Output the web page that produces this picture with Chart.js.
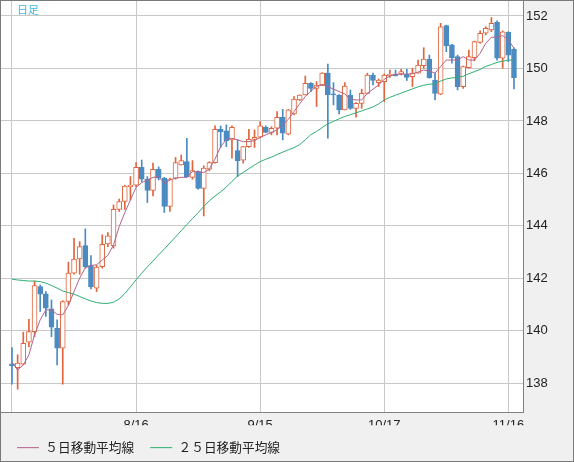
<!DOCTYPE html>
<html lang="ja">
<head>
<meta charset="utf-8">
<title>日足</title>
<script src="https://cdn.jsdelivr.net/npm/chart.js@4.4.1/dist/chart.umd.min.js"></script>
<style>
  html, body { margin: 0; padding: 0; background: #f0f0f0; }
</style>
</head>
<body>
<canvas id="myChart" width="574" height="462"></canvas>
<script>
// USD/JPY daily, 7/17 - 11/17 (index 0 = 7/17)
const opens = [
  138.75, 138.60, 138.73, 139.57, 139.97, 141.69, 141.41, 140.84, 140.10, 139.34,
  141.12, 142.20, 142.74, 143.25, 142.49, 141.63, 142.45, 143.31, 143.24, 144.63,
  144.93, 145.50, 145.55, 146.23, 145.78, 145.35, 146.16, 145.82, 144.74, 145.82,
  146.32, 146.45, 145.85, 146.07, 145.43, 146.16, 146.41, 147.68, 147.62, 147.28,
  146.87, 146.51, 147.02, 147.30, 147.38, 147.76, 147.56, 147.72, 148.14, 147.50,
  148.27, 148.80, 148.99, 149.43, 149.24, 149.37, 149.82, 149.03, 148.99, 148.42,
  148.99, 148.48, 148.67, 149.05, 149.75, 149.46, 149.50, 149.72, 149.79, 149.79,
  149.79, 149.69, 149.82, 150.11, 150.36, 149.56, 149.02, 151.63, 150.90, 150.45,
  149.31, 150.03, 150.41, 150.99, 151.34, 151.47, 151.76, 150.39, 151.38, 150.74
];
const highs = [
  139.36, 139.09, 139.95, 140.44, 141.90, 141.75, 141.50, 141.18, 140.42, 141.15,
  142.62, 143.53, 143.40, 143.89, 142.87, 142.50, 143.66, 143.75, 144.80, 145.02,
  145.55, 145.88, 146.41, 146.51, 145.88, 146.39, 146.25, 145.85, 145.82, 146.61,
  146.70, 147.34, 146.49, 146.10, 146.29, 146.45, 147.81, 147.81, 147.85, 147.81,
  147.28, 147.03, 147.68, 147.66, 147.98, 147.81, 147.78, 148.36, 148.44, 148.44,
  148.93, 148.99, 149.71, 149.46, 149.50, 149.84, 150.17, 149.46, 149.00, 149.46,
  149.18, 148.70, 149.21, 149.82, 149.82, 149.60, 149.79, 149.94, 149.94, 149.97,
  149.97, 150.01, 150.32, 150.79, 150.51, 149.82, 151.72, 151.65, 150.92, 150.51,
  150.09, 150.70, 151.04, 151.43, 151.59, 151.94, 151.81, 151.43, 151.40, 150.79
];
const lows = [
  137.97, 137.78, 138.70, 139.40, 139.78, 140.74, 140.55, 139.78, 138.70, 137.97,
  140.99, 142.16, 142.16, 142.39, 141.60, 141.50, 142.39, 143.21, 143.15, 144.55,
  144.63, 144.99, 145.50, 145.69, 144.89, 145.14, 145.75, 144.51, 144.55, 145.78,
  146.32, 145.86, 145.78, 145.40, 144.38, 146.10, 146.39, 146.99, 147.02, 146.58,
  145.88, 146.39, 146.99, 146.99, 147.34, 147.55, 147.47, 147.47, 147.28, 147.47,
  148.23, 148.77, 148.99, 149.12, 148.55, 149.35, 147.34, 148.61, 148.27, 148.42,
  148.44, 148.14, 148.48, 149.03, 149.37, 149.31, 148.74, 149.66, 149.71, 149.75,
  149.54, 149.31, 149.82, 150.01, 149.63, 148.80, 149.00, 150.64, 150.20, 149.18,
  149.24, 150.01, 150.29, 150.96, 151.28, 151.40, 150.32, 150.01, 150.26, 149.22
];
const closes = [
  138.68, 138.77, 139.53, 139.97, 141.73, 141.40, 140.87, 140.14, 139.34, 141.12,
  142.20, 142.74, 143.21, 142.45, 141.69, 142.43, 143.30, 143.62, 144.63, 144.93,
  145.52, 145.55, 146.23, 145.78, 145.35, 146.16, 145.82, 144.74, 145.78, 146.41,
  146.49, 145.88, 146.11, 145.43, 146.20, 146.41, 147.68, 147.59, 147.25, 147.76,
  146.49, 147.02, 147.30, 147.38, 147.81, 147.56, 147.72, 148.14, 147.53, 148.42,
  148.83, 148.99, 149.43, 149.24, 149.37, 149.82, 148.99, 148.99, 148.42, 149.33,
  148.48, 148.67, 149.05, 149.75, 149.54, 149.56, 149.75, 149.79, 149.72, 149.88,
  149.66, 149.82, 150.13, 150.36, 149.65, 149.05, 151.59, 150.87, 150.41, 149.31,
  150.07, 150.45, 151.02, 151.34, 151.53, 151.72, 150.39, 151.40, 150.51, 149.65
];
const ma5 = [
  138.81, 138.51, 138.70, 139.09, 139.85, 140.42, 140.80, 140.80, 140.63, 140.61,
  140.97, 141.50, 142.01, 142.41, 142.49, 142.52, 142.70, 142.88, 143.28, 143.97,
  144.51, 144.99, 145.47, 145.65, 145.75, 145.85, 145.88, 145.62, 145.75, 145.82,
  145.85, 145.85, 146.07, 146.07, 146.03, 146.18, 146.55, 147.02, 147.30, 147.34,
  147.28, 147.21, 147.21, 147.25, 147.38, 147.47, 147.56, 147.66, 147.85, 148.06,
  148.36, 148.65, 148.93, 149.14, 149.31, 149.37, 149.31, 149.21, 149.12, 149.03,
  148.83, 148.80, 148.80, 149.05, 149.21, 149.37, 149.59, 149.71, 149.78, 149.78,
  149.78, 149.80, 149.86, 149.94, 149.90, 149.82, 150.07, 150.32, 150.32, 150.32,
  150.45, 150.32, 150.32, 150.58, 150.96, 151.19, 151.19, 151.25, 151.09, 150.77
];
const ma25 = [
  141.97, 141.94, 141.92, 141.90, 141.90, 141.88, 141.82, 141.73, 141.63, 141.52,
  141.46, 141.40, 141.31, 141.22, 141.14, 141.08, 141.05, 141.05, 141.09, 141.22,
  141.42, 141.68, 141.95, 142.20, 142.44, 142.66, 142.90, 143.12, 143.35, 143.58,
  143.82, 144.05, 144.28, 144.50, 144.74, 144.96, 145.14, 145.30, 145.48, 145.70,
  145.90, 146.04, 146.18, 146.32, 146.45, 146.54, 146.62, 146.72, 146.81, 146.90,
  146.98, 147.10, 147.28, 147.48, 147.60, 147.75, 147.89, 147.98, 148.08, 148.17,
  148.24, 148.31, 148.38, 148.46, 148.53, 148.65, 148.80, 148.90, 148.98, 149.06,
  149.14, 149.22, 149.30, 149.36, 149.40, 149.42, 149.52, 149.60, 149.64, 149.66,
  149.70, 149.80, 149.88, 149.96, 150.08, 150.15, 150.23, 150.28, 150.32, 150.32
];
const xTicks = [0, 22, 44, 66, 88];
const xTickLabels = ['', '8/16', '9/15', '10/17', '11/16'];
const yTicks = [138, 140, 142, 144, 146, 148, 150, 152];

const upColor = '#e0643c';
const downColor = '#4a8bc2';
const tickFont = { family: '"Liberation Sans", Arial, sans-serif', size: 13 };

const isUp = opens.map((o, i) => closes[i] >= o);

// background, outer frame and the "日足" caption
const framePlugin = {
  id: 'frame',
  beforeDraw(chart) {
    const { ctx, chartArea: a } = chart;
    ctx.save();
    ctx.fillStyle = '#f0f0f0';
    ctx.fillRect(0, 0, chart.width, chart.height);
    ctx.fillStyle = '#ffffff';
    ctx.fillRect(a.left, a.top, a.right - a.left, a.bottom - a.top);
    ctx.restore();
  },
  afterDraw(chart) {
    const ctx = chart.ctx;
    ctx.save();
    ctx.strokeStyle = '#7a7a7a';
    ctx.lineWidth = 1;
    ctx.strokeRect(0.5, 0.5, chart.width - 1, chart.height - 1);
    ctx.font = '11px "Noto Sans CJK JP"';
    ctx.fillStyle = '#3fb6e6';
    ctx.textBaseline = 'top';
    ctx.fillText('日足', 17, 4);
    ctx.restore();
  }
};

var ctx = document.getElementById('myChart').getContext('2d');
var myChart = new Chart(ctx, {
  type: 'bar',
  data: {
    datasets: [{
      type: 'line',
      label: '５日移動平均線',
      data: ma5.map((v, i) => ({ x: i, y: v })),
      borderColor: '#b4648a',
      borderWidth: 1,
      pointRadius: 0,
      order: 0
    }, {
      type: 'line',
      label: '２５日移動平均線',
      data: ma25.map((v, i) => ({ x: i, y: v })),
      borderColor: '#2fae72',
      borderWidth: 1,
      pointRadius: 0,
      order: 1
    }, {
      // wicks: low..high
      data: lows.map((v, i) => ({ x: i, y: [v, highs[i]] })),
      backgroundColor: isUp.map(u => u ? upColor : downColor),
      borderWidth: 0,
      barThickness: 1,
      grouped: false,
      order: 3
    }, {
      // bodies: open..close
      data: opens.map((v, i) => ({ x: i, y: [v, closes[i]] })),
      backgroundColor: isUp.map(u => u ? '#ffffff' : downColor),
      borderColor: isUp.map(u => u ? upColor : downColor),
      borderWidth: 1,
      borderSkipped: false,
      barThickness: 5,
      grouped: false,
      order: 2
    }]
  },
  options: {
    responsive: false,
    animation: false,
    events: [],
    layout: { autoPadding: false, padding: { left: 1, top: 1, right: 1, bottom: -2 } },
    scales: {
      x: {
        type: 'linear',
        min: -1.95,
        max: 90.6,
        offset: false,
        afterBuildTicks: s => { s.ticks = xTicks.map(v => ({ value: v })); },
        afterFit: s => {
          s.height = 52 - s.chart.legend.height;
          s.paddingLeft = 0;
          s.paddingRight = 0;
        },
        grid: { color: '#c8c8c8', drawTicks: false, offset: false },
        border: { color: '#808080' },
        ticks: {
          callback: (v, i) => xTickLabels[i],
          autoSkip: false,
          maxRotation: 0,
          padding: 6,
          color: '#222',
          font: tickFont
        }
      },
      y: {
        position: 'right',
        min: 136.91,
        max: 152.57,
        afterBuildTicks: s => { s.ticks = yTicks.map(v => ({ value: v })); },
        afterFit: s => {
          s.width = 50;
          s.paddingTop = 0;
          s.paddingBottom = 0;
        },
        grid: { color: '#c8c8c8', drawTicks: false },
        border: { color: '#808080' },
        ticks: { padding: 3, color: '#222', font: tickFont }
      }
    },
    plugins: {
      tooltip: { enabled: false },
      legend: {
        position: 'bottom',
        align: 'start',
        labels: {
          filter: item => !!item.text,
          usePointStyle: true,
          pointStyle: 'line',
          pointStyleWidth: 22,
          padding: 16,
          color: '#222',
          font: { family: '"Noto Sans CJK JP"', size: 12.7 }
        }
      }
    }
  },
  plugins: [framePlugin]
});
</script>
</body>
</html>
